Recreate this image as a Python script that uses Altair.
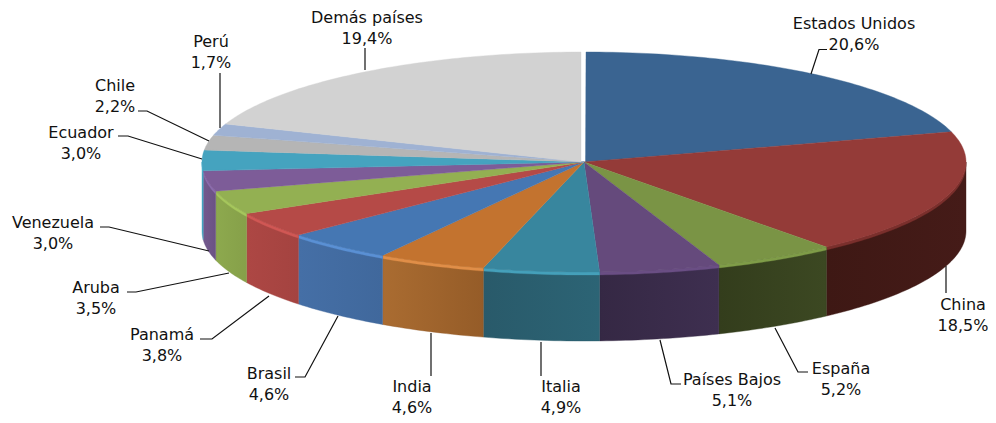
import math
import altair as alt

# --- values ---
names = ["Estados Unidos", "China", "España", "Países Bajos", "Italia", "India", "Brasil",
         "Panamá", "Aruba", "Venezuela", "Ecuador", "Chile", "Perú", "Demás países"]
shares = [20.6, 18.5, 5.2, 5.1, 4.9, 4.6, 4.6, 3.8, 3.5, 3.0, 3.0, 2.2, 1.7, 19.4]
pct_text = ["20,6%", "18,5%", "5,2%", "5,1%", "4,9%", "4,6%", "4,6%",
            "3,8%", "3,5%", "3,0%", "3,0%", "2,2%", "1,7%", "19,4%"]

# --- styles ---
top_colors = ["#3A6491", "#943B38", "#7A9445", "#654A7C", "#38869E", "#C3732F", "#4577B3",
              "#B54A47", "#93B052", "#7D5C98", "#45A3BF", "#B5B5B5", "#9FB2D3", "#D2D2D2"]
wall_left = ["#3A6491", "#451B18", "#3C4822", "#3E2F50", "#2C6475", "#AA6C31", "#456FA6",
             "#AD4744", "#8DA94E", "#735A8E", "#45A3BF", "#B5B5B5", "#9FB2D3", "#D2D2D2"]
wall_right = ["#3A6491", "#3E1814", "#333D1C", "#352844", "#295A6A", "#955C28", "#40689C",
              "#A44340", "#86A049", "#6B5284", "#45A3BF", "#B5B5B5", "#9FB2D3", "#D2D2D2"]
rim_colors = ["#3A6491", "#7A2F2C", "#7F9C48", "#6A4E84", "#45A0BA", "#E08E48", "#5A90D4",
              "#D05754", "#A5C65C", "#8C6CAE", "#50BCDC", "#B5B5B5", "#9FB2D3", "#D2D2D2"]

# --- layout (pie geometry and annotation placement, in picture units) ---
CX, CY, RX, RY, DEPTH, RIM = 584, 162, 382, 110, 69, 3
label_pos = [(854, 24), (963, 305), (841, 369), (732, 380), (561, 387), (412, 387), (269, 374),
             (162, 335), (96, 288), (53, 223), (81, 133), (115, 86), (211, 42), (367, 18)]
leaders = [
    [(811, 74), (819, 49.5), (827, 49.5)],
    [(946, 266), (946, 293)],
    [(775, 328), (798, 372), (808, 372)],
    [(660, 340), (671, 384), (681, 384)],
    [(541, 342), (541, 376)],
    [(431, 333), (431, 376)],
    [(338, 316), (305, 377), (295, 377)],
    [(269, 296), (212, 339), (200, 339)],
    [(229, 273), (136, 292), (127, 292)],
    [(209, 251), (109, 227), (100, 227)],
    [(202, 159), (128, 136), (118, 136)],
    [(209, 141), (147, 111), (138, 111)],
    [(220, 128), (220, 73)],
    [(365, 70), (365, 48)],
]

total = sum(shares)


def pt(deg, dy=0.0):
    a = math.radians(deg)
    return [CX + RX * math.sin(a), CY - RY * math.cos(a) + dy]


def arc(a0, a1, dy=0.0):
    n = max(2, int(abs(a1 - a0) / 1.0) + 1)
    return [pt(a0 + (a1 - a0) * i / n, dy) for i in range(n + 1)]


def feat(coords):
    return {"type": "Feature", "properties": {},
            "geometry": {"type": "Polygon", "coordinates": [coords + [coords[0]]]}}


def band(a0, a1, d0, d1):
    return feat(arc(a0, a1, d0) + arc(a1, a0, d1))


proj = alt.Projection(type="identity", scale=1, translate=[-8, -8])


def shape(f, **kw):
    return alt.Chart(alt.Data(values=[f])).mark_geoshape(**kw).project(**proj.to_dict())


layers = []
edges = [0.0]
for s in shares:
    edges.append(edges[-1] + s / total * 360)

# side walls and rim (front half only)
for i in range(len(names)):
    a0, a1 = max(edges[i], 90), min(edges[i + 1], 270)
    if a1 <= a0:
        continue
    grad = alt.LinearGradient(gradient="linear", x1=0, x2=1, y1=0, y2=0,
                              stops=[alt.GradientStop(color=wall_left[i] if a0 > 180 else wall_right[i], offset=0),
                                     alt.GradientStop(color=wall_right[i] if a0 > 180 else wall_left[i], offset=1)])
    layers.append(shape(band(a0, a1, 0, DEPTH), fill=grad, stroke=wall_right[i], strokeWidth=0.4))
    layers.append(shape(band(a0, a1, 0, RIM), fill=rim_colors[i], stroke=rim_colors[i], strokeWidth=0.3))

# top surface (first and last slice stand a little apart, leaving the white gap)
for i in range(len(names)):
    a0 = edges[i] + (0.3 if i == 0 else 0)
    a1 = edges[i + 1] - (0.45 if i == len(names) - 1 else 0)
    apex_x = CX + (1.5 if i == 0 else -3 if i == len(names) - 1 else 0)
    layers.append(shape(feat([[apex_x, CY]] + arc(a0, a1)), fill=top_colors[i],
                        stroke=top_colors[i], strokeWidth=0.4))

# leader lines
for pts in leaders:
    f = {"type": "Feature", "properties": {},
         "geometry": {"type": "LineString", "coordinates": [list(p) for p in pts]}}
    layers.append(shape(f, filled=False, stroke="#111111", strokeWidth=1.2))

# labels
label_rows = [{"t": f"{n}\n{p}", "lon": xy[0], "lat": xy[1]}
              for n, p, xy in zip(names, pct_text, label_pos)]
layers.append(
    alt.Chart(alt.Data(values=label_rows))
    .mark_text(font="DejaVu Sans", fontSize=16, lineBreak="\n", lineHeight=20.5, color="#111111",
               align="center", baseline="middle")
    .encode(longitude="lon:Q", latitude="lat:Q", text="t:N")
    .project(**proj.to_dict())
)

chart = (
    alt.layer(*layers)
    .properties(width=980, height=407, padding=0, background="white")
    .configure_view(stroke=None)
)
chart.save("out.html", embed_options={"renderer": "svg", "actions": False})
